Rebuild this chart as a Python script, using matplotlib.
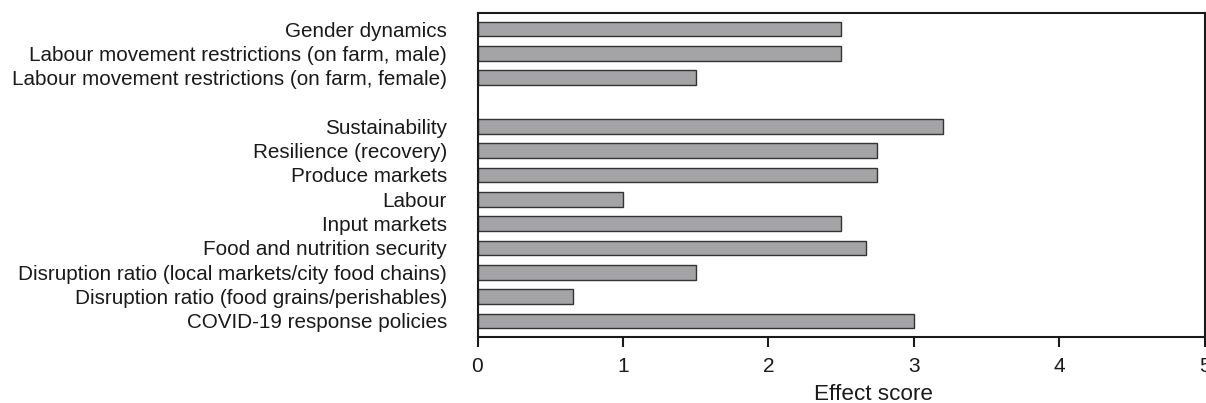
import matplotlib
matplotlib.use("Agg")
import matplotlib.pyplot as plt

plt.rcParams['font.family'] = ['Liberation Sans', 'DejaVu Sans']

categories = [
    "Gender dynamics",
    "Labour movement restrictions (on farm, male)",
    "Labour movement restrictions (on farm, female)",
    "",
    "Sustainability",
    "Resilience (recovery)",
    "Produce markets",
    "Labour",
    "Input markets",
    "Food and nutrition security",
    "Disruption ratio (local markets/city food chains)",
    "Disruption ratio (food grains/perishables)",
    "COVID-19 response policies",
]
values = [2.5, 2.5, 1.5, None, 3.2, 2.75, 2.75, 1.0, 2.5, 2.67, 1.5, 0.66, 3.0]
xticks = [0, 1, 2, 3, 4, 5]

fig = plt.figure(figsize=(12.06, 4.03), dpi=100)
ax = fig.add_axes([477.5 / 1206, 66 / 403, 727 / 1206, 324.5 / 403])

pos = list(range(len(categories)))
bar_pos = [p for p, v in zip(pos, values) if v is not None]
bar_val = [v for v in values if v is not None]
ax.barh(bar_pos, bar_val, height=0.6, color='#a4a4a6', edgecolor='#333333', linewidth=1.0)

ax.set_ylim(len(categories) - 1 + 0.66, -0.68)
ax.set_xlim(0, 5)
ax.set_yticks(pos)
ax.set_yticklabels(categories, fontsize=14.9, color='#1a1a1a')
ax.tick_params(axis='y', length=0, pad=22)
ax.set_xticks(xticks)
ax.set_xticklabels([str(t) for t in xticks], fontsize=15, color='#1a1a1a')
ax.tick_params(axis='x', direction='out', length=7.5, width=1.5, pad=7, color='#1a1a1a')
for s in ax.spines.values():
    s.set_linewidth(1.5)
    s.set_color('#1a1a1a')
ax.set_xlabel("Effect score", fontsize=16.2, color='#1a1a1a', labelpad=7)
ax.xaxis.set_label_coords(0.545, -0.145)
ax.xaxis.label.set_va('top')

fig.savefig("out.png", dpi=100)
